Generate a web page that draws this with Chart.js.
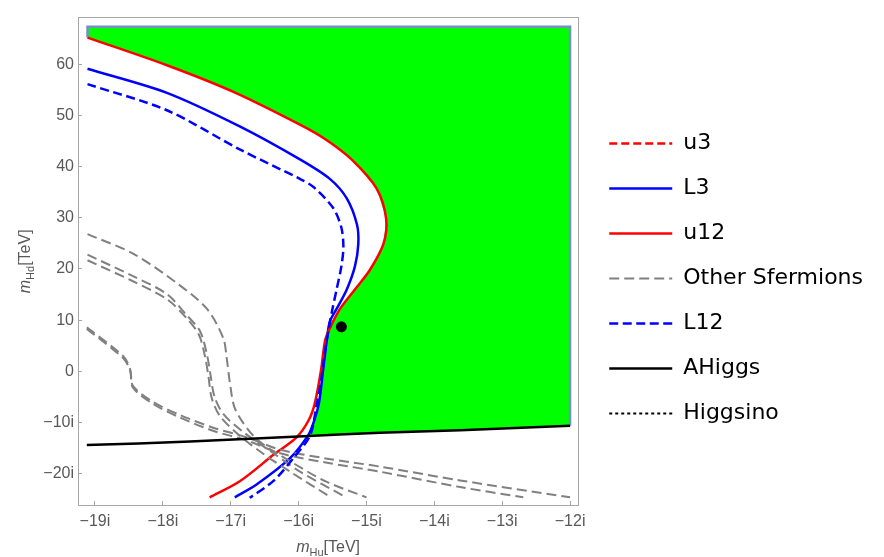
<!DOCTYPE html>
<html>
<head>
<meta charset="utf-8">
<script src="https://cdn.jsdelivr.net/npm/chart.js@4.4.0/dist/chart.umd.min.js"></script>
<style>
  body { margin: 0; background: #fff; }
</style>
</head>
<body>
<canvas id="chart" width="884" height="557"></canvas>
<script>
const xTicks = [-19, -18, -17, -16, -15, -14, -13, -12];
const yTicks = [-20, -10, 0, 10, 20, 30, 40, 50, 60];

// u12 (red, solid)
const u12X = [-19.11, -17.94, -16.96, -15.98, -15.6, -15.22, -14.85, -14.71, -14.75, -14.95, -15.17, -15.39, -15.54, -15.61, -15.67, -15.76, -15.85, -16.03, -16.37, -16.86, -17.31];
const u12Y = [65.2, 59.8, 54.6, 48.2, 45.3, 41.4, 35.7, 29.8, 24.9, 19.8, 16.0, 12.2, 8.4, 6.0, 0.2, -6.2, -9.5, -12.9, -16.3, -21.4, -24.6];

// L3 (blue, solid)
const l3X = [-19.11, -17.94, -16.86, -15.98, -15.54, -15.29, -15.14, -15.12, -15.17, -15.29, -15.44, -15.54, -15.58, -15.64, -15.70, -15.78, -15.86, -16.13, -16.62, -16.94];
const l3Y = [59.1, 54.4, 47.8, 41.4, 37.6, 33.8, 28.7, 24.9, 20.5, 16.0, 12.2, 9.7, 6.5, 0.15, -6.2, -10.0, -12.5, -17.0, -22.1, -24.6];

// L12 (blue, dashed)
const l12X = [-19.11, -17.94, -16.86, -15.98, -15.78, -15.49, -15.37, -15.34, -15.37, -15.44, -15.51, -15.56, -15.61, -15.67, -15.74, -15.83, -16.08, -16.37, -16.72];
const l12Y = [56.1, 51.0, 43.3, 37.6, 36.0, 31.9, 28.1, 24.3, 20.5, 16.0, 11.6, 8.0, 4.0, -2.0, -7.0, -12.5, -17.0, -21.4, -24.7];

// AHiggs (black)
const aHiggsX = [-19.12, -17.6, -16.0, -14.8, -13.62, -12.0];
const aHiggsY = [-14.4, -13.7, -12.7, -12.0, -11.5, -10.6];

// other sfermions (grey, dashed)
const sfAX = [-19.11, -18.44, -17.8, -17.35, -17.11, -17.06, -17.01, -16.93, -16.62, -16.13, -15.6, -15.0];
const sfAY = [26.8, 23.0, 17.3, 12.2, 6.5, 2.7, -2.4, -7.5, -13.2, -17.5, -21.5, -24.6];
const sfBX = [-19.11, -18.44, -17.94, -17.65, -17.45, -17.35, -17.3, -17.24, -17.11, -16.81, -16.37, -15.98, -15.34];
const sfBY = [22.8, 18.6, 15.1, 11.0, 7.8, 3.3, -0.5, -4.9, -8.3, -11.9, -16.0, -19.6, -24.3];
const sfCX = [-19.11, -18.44, -17.94, -17.65, -17.47, -17.38, -17.33, -17.28, -17.16, -16.9, -16.5, -16.1, -15.56];
const sfCY = [21.7, 17.6, 14.1, 10.4, 7.2, 3.0, -0.8, -5.2, -8.7, -12.2, -16.3, -19.8, -24.3];
const sfDX = [-19.12, -18.58, -18.48, -18.44, -18.14, -17.75, -17.26, -16.76, -16.27, -15.6, -14.8, -13.62, -12.0];
const sfDY = [8.6, 2.9, 0.3, -2.8, -6.0, -8.5, -11.0, -12.9, -15.3, -17.0, -18.6, -21.3, -24.6];
const sfEX = [-19.12, -18.58, -18.48, -18.44, -18.14, -17.75, -17.26, -16.76, -16.27, -15.6, -14.8, -13.62, -12.69];
const sfEY = [8.3, 2.5, 0.0, -3.2, -6.4, -9.0, -11.6, -13.5, -16.0, -17.8, -19.6, -22.6, -24.6];

// allowed region (green)
const regionX = [-19.11, -12, -12, -13.62, -14.8, -15.86, -15.78, -15.70, -15.64, -15.58, -15.54, -15.39, -15.17, -14.95, -14.75, -14.71, -14.85, -15.22, -15.6, -15.98, -16.96, -17.94, -19.11];
const regionY = [67.3, 67.3, -10.6, -11.5, -12.0, -12.5, -10.0, -6.2, 0.15, 6.5, 9.0, 12.2, 16.0, 19.8, 24.9, 29.8, 35.7, 41.4, 45.3, 48.2, 54.6, 59.8, 65.2];
const edgeX = [-19.11, -19.11, -12, -12];
const edgeY = [65.2, 67.3, 67.3, -10.6];

// benchmark point
const pointX = [-15.37];
const pointY = [8.7];

const frameColor = '#a6a6a6';
const tickColor = '#585858';
const tickFont = { family: 'Liberation Sans', size: 16 };

const fmtTick = v => v < 0 ? '\u2212' + Math.abs(v) + 'i' : String(v);
const pts = (xs, ys) => xs.map((x, i) => ({ x: x, y: ys[i] }));

function curve(label, xs, ys, color, dash, width, order) {
  return {
    label: label,
    data: pts(xs, ys),
    showLine: true,
    borderColor: color,
    backgroundColor: color,
    borderDash: dash,
    borderWidth: width,
    pointRadius: 0,
    tension: 0.3,
    fill: false,
    order: order
  };
}

const datasets = [
  curve('u3', [], [], '#ff0000', [8, 4], 2.5, 7),
  curve('L3', l3X, l3Y, '#0000ff', [], 2.5, 6),
  curve('u12', u12X, u12Y, '#ff0000', [], 2.5, 5),
  curve('Other Sfermions', sfAX, sfAY, '#808080', [10, 5], 2, 4),
  curve('L12', l12X, l12Y, '#0000ff', [9, 4.5], 2.5, 3),
  curve('AHiggs', aHiggsX, aHiggsY, '#000000', [], 2.5, 2),
  curve('Higgsino', [], [], '#000000', [3, 3], 2, 1),
  curve('', sfBX, sfBY, '#808080', [10, 5], 2, 4),
  curve('', sfCX, sfCY, '#808080', [10, 5], 2, 4),
  curve('', sfDX, sfDY, '#808080', [10, 5], 2, 4),
  curve('', sfEX, sfEY, '#808080', [10, 5], 2, 4),
  {
    label: '',
    data: pts(regionX, regionY),
    showLine: true,
    fill: 'shape',
    backgroundColor: '#00ff00',
    borderWidth: 0,
    pointRadius: 0,
    tension: 0,
    order: 9
  },
  Object.assign(curve('', edgeX, edgeY, '#7391c3', [], 2.5, 8), { tension: 0 }),
  {
    label: '',
    data: pts(pointX, pointY),
    showLine: false,
    pointRadius: 5.5,
    backgroundColor: '#000000',
    borderWidth: 0,
    order: 0
  }
];

function drawAxisLabel(ctx, sub, x, y, rot) {
  const parts = [
    { text: 'm', font: 'italic 16px "Liberation Sans"', dy: 0 },
    { text: sub, font: '11px "Liberation Sans"', dy: 4 },
    { text: '[TeV]', font: '16px "Liberation Sans"', dy: 0 }
  ];
  ctx.save();
  ctx.translate(x, y);
  ctx.rotate(rot);
  ctx.fillStyle = tickColor;
  ctx.textAlign = 'left';
  ctx.textBaseline = 'alphabetic';
  let total = 0;
  parts.forEach(p => { ctx.font = p.font; p.w = ctx.measureText(p.text).width; total += p.w; });
  let px = -total / 2;
  parts.forEach(p => { ctx.font = p.font; ctx.fillText(p.text, px, p.dy); px += p.w; });
  ctx.restore();
}

const axisTitles = {
  id: 'axisTitles',
  afterDraw(chart) {
    const a = chart.chartArea;
    drawAxisLabel(chart.ctx, 'Hu', (a.left + a.right) / 2, chart.height - 5, 0);
    drawAxisLabel(chart.ctx, 'Hd', 30, (a.top + a.bottom) / 2, -Math.PI / 2);
  }
};

window.onload = function() {
  new Chart(document.getElementById('chart'), {
    type: 'scatter',
    data: { datasets: datasets },
    options: {
      responsive: false,
      animation: false,
      layout: { padding: { right: 11 } },
      scales: {
        x: {
          type: 'linear',
          min: -19.25,
          max: -11.88,
          afterBuildTicks: s => { s.ticks = xTicks.map(v => ({ value: v })); },
          afterFit: s => { s.height = 52; },
          ticks: { callback: fmtTick, color: tickColor, font: tickFont, padding: 11, maxRotation: 0, autoSkip: false },
          grid: { drawOnChartArea: false, tickLength: -4, color: frameColor },
          border: { color: frameColor }
        },
        y: {
          type: 'linear',
          min: -26.1,
          max: 69.1,
          afterBuildTicks: s => { s.ticks = yTicks.map(v => ({ value: v })); },
          afterFit: s => { s.width = 78; },
          ticks: { callback: fmtTick, color: tickColor, font: tickFont, padding: 8, autoSkip: false },
          grid: { drawOnChartArea: false, tickLength: -4, color: frameColor },
          border: { color: frameColor }
        },
        x2: {
          type: 'linear', position: 'top', min: 0, max: 1,
          afterFit: s => { s.height = 4; },
          ticks: { display: false },
          grid: { display: false },
          border: { color: frameColor }
        },
        y2: {
          type: 'linear', position: 'right', min: 0, max: 1,
          afterFit: s => { s.width = 8; },
          ticks: { display: false },
          grid: { display: false },
          border: { color: frameColor }
        }
      },
      plugins: {
        tooltip: { enabled: false },
        legend: {
          position: 'right',
          maxWidth: 320,
          labels: {
            usePointStyle: true,
            pointStyleWidth: 63,
            padding: 23,
            color: '#000000',
            font: { family: 'DejaVu Sans', size: 22 },
            generateLabels: chart => chart.data.datasets
              .map((ds, i) => ({
                text: ds.label,
                datasetIndex: i,
                strokeStyle: ds.borderColor,
                fillStyle: ds.borderColor,
                lineWidth: ds.borderWidth,
                lineDash: ds.borderDash,
                pointStyle: 'line',
                hidden: false
              }))
              .filter(item => item.text !== '')
          }
        }
      }
    },
    plugins: [axisTitles]
  });
};
</script>
</body>
</html>
